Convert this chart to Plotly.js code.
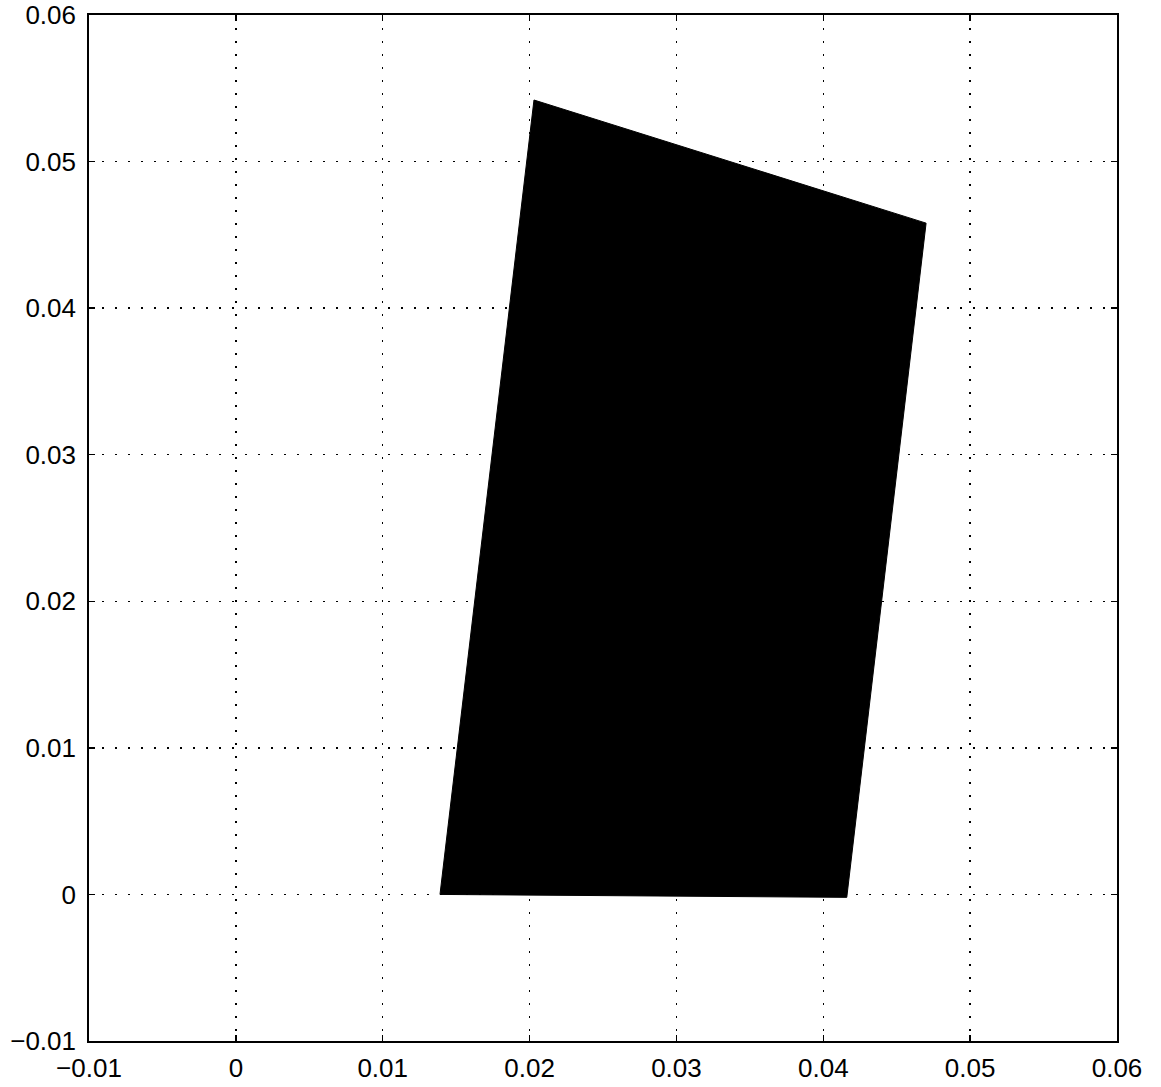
<!DOCTYPE html>
<html>
<head>
<meta charset="utf-8">
<script src="https://cdn.plot.ly/plotly-3.0.1.min.js"></script>
<style>html,body{margin:0;padding:0;background:#fff;}</style>
</head>
<body>
<div id="chart" style="width:1161px;height:1087px;"></div>
<script>
// Polygon vertices
const polyX = [0.0139, 0.0416, 0.0470, 0.0203, 0.0139];
const polyY = [0.0000, -0.0002, 0.0458, 0.0542, 0.0000];
const tickVals = [-0.01, 0, 0.01, 0.02, 0.03, 0.04, 0.05, 0.06];
const tickText = ["\u22120.01", "0", "0.01", "0.02", "0.03", "0.04", "0.05", "0.06"];

const axisCommon = {
  range: [-0.01, 0.06],
  tickvals: tickVals,
  ticktext: tickText,
  showline: true,
  linecolor: '#000',
  linewidth: 1.8,
  mirror: 'ticks',
  ticks: 'inside',
  ticklen: 6,
  tickwidth: 1.5,
  tickcolor: '#000',
  showgrid: true,
  gridcolor: '#000',
  gridwidth: 1.5,
  griddash: '2px,11px',
  zeroline: false,
  tickfont: {family: 'Liberation Sans, Arial, sans-serif', size: 26, color: '#000'}
};

Plotly.newPlot('chart', [{
  type: 'scatter',
  mode: 'lines',
  x: polyX,
  y: polyY,
  fill: 'toself',
  fillcolor: '#000',
  line: {color: '#000', width: 1},
  hoverinfo: 'skip'
}], {
  width: 1161,
  height: 1087,
  margin: {l: 89, r: 44, t: 15, b: 46},
  paper_bgcolor: '#fff',
  plot_bgcolor: '#fff',
  showlegend: false,
  xaxis: Object.assign({}, axisCommon, {ticklabelstandoff: 3}),
  yaxis: Object.assign({}, axisCommon, {ticklabelstandoff: 6})
}, {staticPlot: true});
</script>
</body>
</html>
